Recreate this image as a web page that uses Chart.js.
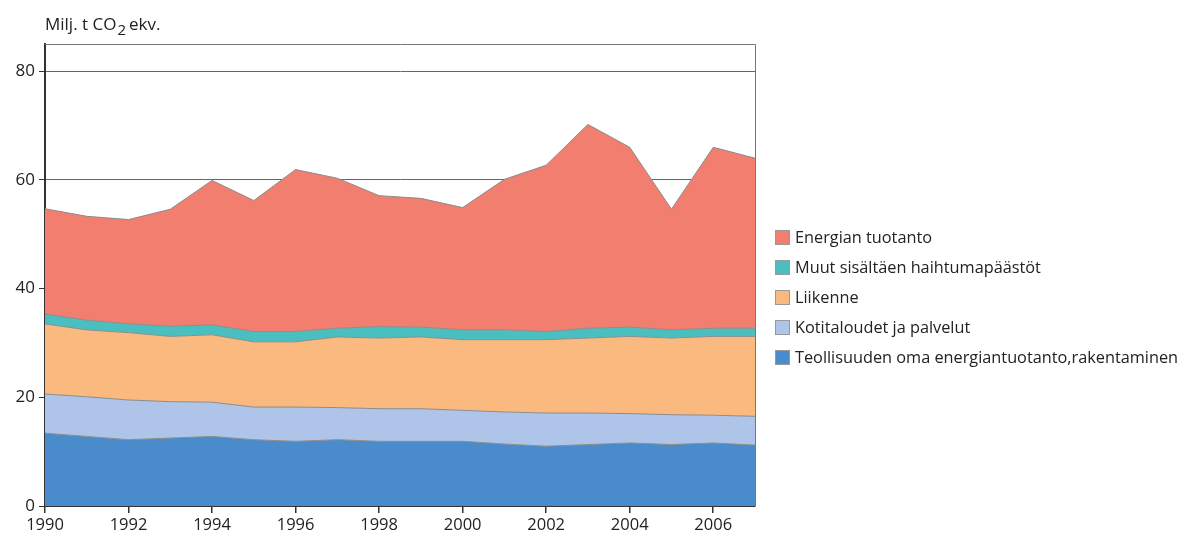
<!DOCTYPE html>
<html>
<head>
<meta charset="utf-8">
<script src="https://cdn.jsdelivr.net/npm/chart.js@4.4.1/dist/chart.umd.min.js"></script>
<style>
  html, body { margin: 0; padding: 0; background: #fff; }
  #wrap { width: 1182px; height: 541px; }
</style>
</head>
<body>
<div id="wrap"><canvas id="chart" width="1182" height="541"></canvas></div>
<script>
// years on the x axis
const years = ['1990','1991','1992','1993','1994','1995','1996','1997','1998','1999',
               '2000','2001','2002','2003','2004','2005','2006','2007'];

// Milj. t CO2 ekv., one array per sector (stack order bottom -> top)
const teollisuus = [13.4, 12.8, 12.2, 12.5, 12.8, 12.2, 11.9, 12.2, 11.9, 11.9, 11.9, 11.4, 11.0, 11.3, 11.6, 11.3, 11.6, 11.2];
const kotitaloudet = [7.2, 7.3, 7.3, 6.7, 6.3, 6.0, 6.3, 5.9, 6.0, 6.0, 5.7, 5.9, 6.1, 5.8, 5.4, 5.5, 5.1, 5.3];
const liikenne = [12.9, 12.3, 12.4, 12.0, 12.4, 12.0, 12.0, 13.0, 13.0, 13.2, 13.0, 13.3, 13.5, 13.8, 14.2, 14.1, 14.5, 14.7];
const muut = [1.8, 1.8, 1.6, 1.9, 1.8, 1.9, 1.9, 1.6, 2.1, 1.8, 1.8, 1.8, 1.5, 1.8, 1.7, 1.5, 1.5, 1.5];
const energia = [19.4, 19.1, 19.2, 21.5, 26.6, 24.1, 29.8, 27.6, 24.1, 23.7, 22.5, 27.7, 30.6, 37.5, 33.1, 22.2, 33.3, 31.3];

const yTicks = [0, 20, 40, 60, 80];

const FONT = "'Open Sans', sans-serif";

function area(label, data, color, fill) {
    return {
        label: label,
        data: data,
        backgroundColor: color,
        borderColor: '#8c8c8c',
        borderWidth: 1,
        pointRadius: 0,
        tension: 0,
        fill: fill
    };
}

// title with subscript 2, frame lines and the legend on the right
const extras = {
    id: 'extras',
    afterDraw(chart) {
        const ctx = chart.ctx;
        const a = chart.chartArea;
        ctx.save();
        // frame top + right
        ctx.strokeStyle = '#777';
        ctx.lineWidth = 1;
        ctx.beginPath();
        ctx.moveTo(a.left, a.top + 0.5);
        ctx.lineTo(a.right + 0.5, a.top + 0.5);
        ctx.lineTo(a.right + 0.5, a.bottom);
        ctx.stroke();

        // title
        ctx.fillStyle = '#222';
        ctx.textBaseline = 'alphabetic';
        ctx.textAlign = 'left';
        ctx.font = '17px ' + FONT;
        let x = 45;
        const base = 30;
        ctx.fillText('Milj. t CO', x, base);
        x += ctx.measureText('Milj. t CO').width;
        ctx.font = '15px ' + FONT;
        ctx.fillText('2', x + 1, base + 5);
        x += ctx.measureText('2').width + 4;
        ctx.font = '17px ' + FONT;
        ctx.fillText('ekv.', x, base);

        // legend, top item = top of stack
        const ds = chart.data.datasets.slice().reverse();
        ctx.font = '16.3px ' + FONT;
        ctx.textBaseline = 'middle';
        ds.forEach((d, i) => {
            const cy = 237 + i * 30;
            ctx.fillStyle = d.backgroundColor;
            ctx.fillRect(775, cy - 7, 15, 15);
            ctx.strokeStyle = '#999';
            ctx.strokeRect(775.5, cy - 6.5, 14, 14);
            ctx.fillStyle = '#222';
            ctx.fillText(d.label, 795, cy + 1);
        });
        ctx.restore();
    }
};

new Chart(document.getElementById('chart').getContext('2d'), {
    type: 'line',
    data: {
        labels: years,
        datasets: [
            area('Teollisuuden oma energiantuotanto,rakentaminen', teollisuus, '#4a8ccb', 'origin'),
            area('Kotitaloudet ja palvelut', kotitaloudet, '#aec5e9', '-1'),
            area('Liikenne', liikenne, '#fab97f', '-1'),
            area('Muut sisältäen haihtumapäästöt', muut, '#49c0bf', '-1'),
            area('Energian tuotanto', energia, '#f17e6e', '-1')
        ]
    },
    options: {
        responsive: false,
        animation: false,
        layout: { padding: { top: 44, right: 427, left: 0, bottom: 0 } },
        plugins: {
            legend: { display: false },
            tooltip: { enabled: false }
        },
        scales: {
            x: {
                offset: false,
                grid: {
                    drawOnChartArea: false,
                    tickLength: 7,
                    tickColor: (c) => (c.index % 2 === 0 ? '#333' : 'rgba(0,0,0,0)'),
                    lineWidth: 1.5
                },
                border: { color: '#333', width: 2 },
                ticks: {
                    autoSkip: false,
                    maxRotation: 0,
                    padding: 2,
                    color: '#222',
                    font: { family: FONT, size: 16.5 },
                    callback: (v, i) => (i % 2 === 0 ? years[i] : '')
                },
                afterFit(s) { s.height = 35; }
            },
            y: {
                stacked: true,
                min: 0,
                max: 85,
                afterBuildTicks(s) { s.ticks = yTicks.map(v => ({ value: v })); },
                grid: {
                    color: '#666',
                    lineWidth: 1,
                    tickLength: 6,
                    tickColor: '#333'
                },
                border: { color: '#333', width: 2 },
                ticks: {
                    padding: 4,
                    color: '#222',
                    font: { family: FONT, size: 17 }
                },
                afterFit(s) { s.width = 45; }
            }
        }
    },
    plugins: [extras]
});
</script>
</body>
</html>
